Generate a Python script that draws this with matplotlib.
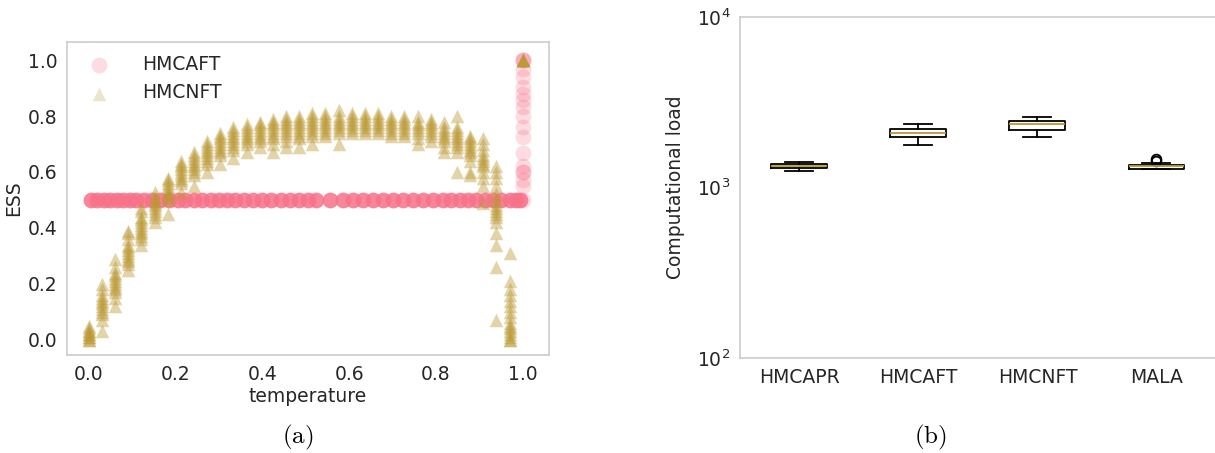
from matplotlib import pyplot as plt
import numpy as np

# ---- data ----
# HMCNFT: fixed temperature ladder, ESS of several runs per step
nft_temps = [0.0, 0.030, 0.061, 0.091, 0.121, 0.152, 0.182, 0.212, 0.242, 0.273,
             0.303, 0.333, 0.364, 0.394, 0.424, 0.455, 0.485, 0.515, 0.545, 0.576,
             0.606, 0.636, 0.667, 0.697, 0.727, 0.758, 0.788, 0.818, 0.848, 0.879,
             0.909, 0.939, 0.970, 1.0]
nft_ess = [
    [0.0, 0.0, 0.01, 0.01, 0.02, 0.02, 0.03, 0.03, 0.04, 0.05],
    [0.03, 0.07, 0.09, 0.10, 0.11, 0.12, 0.13, 0.14, 0.15, 0.16, 0.18, 0.20],
    [0.12, 0.15, 0.17, 0.18, 0.19, 0.20, 0.21, 0.22, 0.23, 0.24, 0.26, 0.29],
    [0.25, 0.27, 0.28, 0.29, 0.30, 0.31, 0.32, 0.33, 0.34, 0.36, 0.38, 0.39],
    [0.34, 0.36, 0.37, 0.38, 0.39, 0.40, 0.41, 0.42, 0.43, 0.44, 0.46, 0.47],
    [0.42, 0.44, 0.45, 0.46, 0.47, 0.48, 0.49, 0.50, 0.51, 0.53],
    [0.45, 0.50, 0.51, 0.52, 0.53, 0.54, 0.55, 0.56, 0.57, 0.58],
    [0.53, 0.56, 0.57, 0.58, 0.59, 0.60, 0.61, 0.62, 0.63, 0.64],
    [0.55, 0.59, 0.60, 0.61, 0.62, 0.63, 0.64, 0.65, 0.66, 0.67],
    [0.60, 0.63, 0.64, 0.65, 0.66, 0.67, 0.68, 0.69, 0.70, 0.71],
    [0.63, 0.66, 0.67, 0.68, 0.69, 0.70, 0.71, 0.72, 0.73, 0.74],
    [0.65, 0.68, 0.69, 0.70, 0.71, 0.72, 0.73, 0.74, 0.75, 0.76],
    [0.67, 0.70, 0.71, 0.72, 0.73, 0.74, 0.75, 0.76, 0.77],
    [0.69, 0.71, 0.72, 0.73, 0.74, 0.75, 0.76, 0.77, 0.78],
    [0.67, 0.70, 0.72, 0.73, 0.74, 0.75, 0.76, 0.77, 0.78, 0.79],
    [0.69, 0.71, 0.73, 0.74, 0.75, 0.76, 0.77, 0.78, 0.79, 0.80],
    [0.69, 0.72, 0.73, 0.74, 0.75, 0.76, 0.77, 0.78, 0.79, 0.80],
    [0.70, 0.73, 0.74, 0.75, 0.76, 0.77, 0.78, 0.79, 0.80, 0.81],
    [0.73, 0.74, 0.75, 0.76, 0.77, 0.78, 0.79, 0.80, 0.81],
    [0.70, 0.74, 0.75, 0.76, 0.77, 0.78, 0.79, 0.80, 0.82],
    [0.74, 0.75, 0.76, 0.77, 0.78, 0.79, 0.80, 0.81],
    [0.74, 0.75, 0.76, 0.77, 0.78, 0.79, 0.80, 0.81],
    [0.74, 0.75, 0.76, 0.77, 0.78, 0.79, 0.80, 0.81],
    [0.73, 0.74, 0.75, 0.76, 0.77, 0.78, 0.79, 0.80],
    [0.73, 0.74, 0.75, 0.76, 0.77, 0.78, 0.79, 0.80],
    [0.70, 0.72, 0.74, 0.75, 0.76, 0.77, 0.78, 0.80],
    [0.71, 0.73, 0.74, 0.75, 0.76, 0.77, 0.78, 0.79],
    [0.67, 0.69, 0.71, 0.72, 0.73, 0.74, 0.75, 0.76, 0.78],
    [0.60, 0.67, 0.69, 0.70, 0.71, 0.72, 0.73, 0.74, 0.75, 0.76, 0.80],
    [0.59, 0.60, 0.64, 0.66, 0.67, 0.68, 0.69, 0.70, 0.71, 0.72, 0.73],
    [0.49, 0.55, 0.58, 0.60, 0.62, 0.63, 0.64, 0.65, 0.66, 0.68, 0.70, 0.72],
    [0.07, 0.26, 0.34, 0.38, 0.42, 0.44, 0.45, 0.46, 0.47, 0.48, 0.50, 0.52,
     0.55, 0.58, 0.60, 0.62],
    [0.0, 0.0, 0.01, 0.02, 0.03, 0.04, 0.05, 0.06, 0.08, 0.10, 0.12, 0.14,
     0.16, 0.18, 0.21, 0.31],
    [1.0, 1.0, 1.0, 1.0, 1.0],
]

# HMCAFT: adaptive ladder keeps ESS at 0.5, last step jumps to temperature 1
aft_temps = [0.005, 0.02, 0.035, 0.05, 0.065, 0.08, 0.095, 0.11, 0.127, 0.145,
             0.165, 0.185, 0.205, 0.222, 0.242, 0.262, 0.281, 0.30, 0.319, 0.338,
             0.358, 0.378, 0.399, 0.42, 0.443, 0.464, 0.485, 0.504, 0.524, 0.555,
             0.585, 0.608, 0.631, 0.654, 0.677, 0.70, 0.724, 0.747, 0.77, 0.793,
             0.816, 0.835, 0.855, 0.874, 0.893, 0.912, 0.931, 0.95, 0.97, 0.983,
             0.993]
aft_ess = [0.5] * len(aft_temps)
aft_final_ess = [1.0, 1.0, 1.0, 0.97, 0.94, 0.905, 0.88, 0.857, 0.833, 0.8,
                 0.76, 0.726, 0.667, 0.62, 0.6, 0.6, 0.57, 0.55, 0.5]

# computational load box plots
methods = ['HMCAPR', 'HMCAFT', 'HMCNFT', 'MALA']
load_med = [1337, 2080, 2355, 1337]
load_q1 = [1297, 1970, 2165, 1289]
load_q3 = [1374, 2203, 2444, 1349]
load_lo = [1250, 1782, 1977, 1287]
load_hi = [1416, 2366, 2601, 1398]
load_fliers = [[], [], [], [1430, 1469]]

# ---- style ----
pink = '#f77189'
olive = '#bb9832'
txt = '#262626'
fs = 13.5
plt.rcParams['font.family'] = 'DejaVu Sans'
plt.rcParams['axes.prop_cycle'] = plt.cycler(color=[pink, olive, '#50b131', '#36ada4', '#3ba3ec', '#e866f4'])

fig = plt.figure(figsize=(12.15, 4.53), dpi=100)
ax1 = fig.add_axes([0.0551, 0.2163, 0.3967, 0.691])
ax2 = fig.add_axes([0.609, 0.2097, 0.3918, 0.7528])

for ax in (ax1, ax2):
    for s in ax.spines.values():
        s.set_color('#cccccc')
        s.set_linewidth(1.2)
    ax.tick_params(length=0, labelsize=fs, labelcolor=txt, pad=7)

# ---- (a) ESS vs temperature ----
ax1.scatter(aft_temps, aft_ess, s=130, marker='o', color=pink, alpha=0.85, linewidths=0)
ax1.scatter([1.0] * len(aft_final_ess), aft_final_ess, s=130, marker='o', color=pink,
            alpha=0.25, linewidths=0)
nx = np.concatenate([[t] * len(v) for t, v in zip(nft_temps, nft_ess)])
ny = np.concatenate(nft_ess)
ax1.scatter(nx, ny, s=95, marker='^', color=olive, alpha=0.42, linewidths=0)

h1 = ax1.scatter([], [], s=130, marker='o', color=pink, alpha=0.25, linewidths=0, label='HMCAFT')
h2 = ax1.scatter([], [], s=95, marker='^', color=olive, alpha=0.25, linewidths=0, label='HMCNFT')
ax1.legend(handles=[h1, h2], loc='upper left', frameon=False, fontsize=fs,
           handletextpad=1.3, labelcolor=txt, borderaxespad=0.3)

ax1.set_xlim(-0.05, 1.06)
ax1.set_ylim(-0.055, 1.065)
ax1.set_xticks([0.0, 0.2, 0.4, 0.6, 0.8, 1.0])
ax1.set_yticks([0.0, 0.2, 0.4, 0.6, 0.8, 1.0])
ax1.set_xlabel('temperature', fontsize=fs, color=txt, labelpad=2)
ax1.set_ylabel('ESS', fontsize=fs, color=txt, labelpad=3)

# ---- (b) computational load ----
stats = []
for i, m in enumerate(methods):
    stats.append(dict(label=m, med=load_med[i], q1=load_q1[i], q3=load_q3[i],
                      whislo=load_lo[i], whishi=load_hi[i], fliers=load_fliers[i]))
ax2.bxp(stats, widths=0.47,
        boxprops=dict(color='black', linewidth=1.3),
        whiskerprops=dict(color='black', linewidth=1.3),
        capprops=dict(color='black', linewidth=1.3),
        medianprops=dict(color=olive, linewidth=1.3),
        flierprops=dict(marker='o', markerfacecolor='none', markeredgecolor='black',
                        markersize=7, markeredgewidth=1.3))
ax2.set_yscale('log')
ax2.set_ylim(1e2, 1e4)
ax2.set_xlim(0.5, 4.5)
ax2.minorticks_off()
ax2.spines['right'].set_visible(False)
ax2.set_ylabel('Computational load', fontsize=fs, color=txt, labelpad=8)

fig.text(298 / 1215, 1 - 437 / 453, r'$\mathrm{(a)}$', fontsize=18, ha='center',
         va='center', math_fontfamily='cm', color='black')
fig.text(930 / 1215, 1 - 437 / 453, r'$\mathrm{(b)}$', fontsize=18, ha='center',
         va='center', math_fontfamily='cm', color='black')

fig.savefig('out.png', dpi=100)
